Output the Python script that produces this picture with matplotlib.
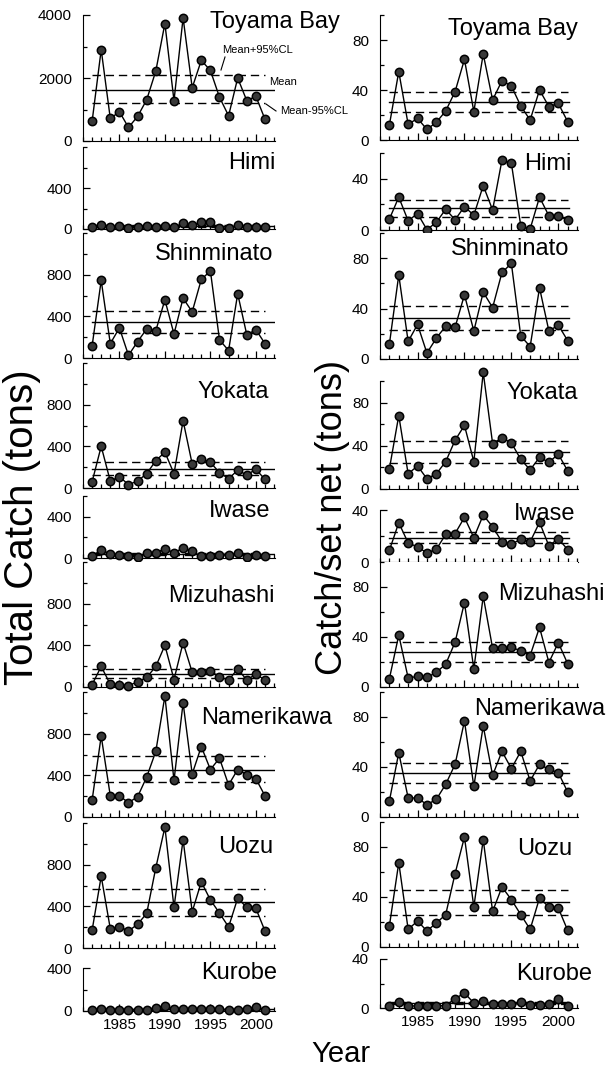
import matplotlib.pyplot as plt
from matplotlib.ticker import MultipleLocator, FixedLocator
import numpy as np

plt.rcParams['font.family'] = ['Liberation Sans', 'DejaVu Sans']

# ---------------- data ----------------
years = np.arange(1982, 2002)

sites = ["Toyama Bay", "Himi", "Shinminato", "Yokata", "Iwase",
         "Mizuhashi", "Namerikawa", "Uozu", "Kurobe"]

# total catch (tons)
catch_toyama = [620, 2900, 715, 930, 430, 780, 1310, 2220, 3730, 1280,
                3910, 1690, 2560, 2240, 1390, 800, 2000, 1280, 1420, 690]
catch_himi = [16, 39, 16, 26, 7, 16, 33, 16, 33, 16,
              55, 39, 65, 65, 7, 7, 39, 23, 16, 16]
catch_shinminato = [115, 745, 138, 289, 26, 157, 279, 262, 558, 230,
                    574, 443, 754, 836, 174, 72, 617, 223, 272, 138]
catch_yokata = [59, 400, 66, 108, 33, 66, 138, 262, 344, 138,
                646, 230, 279, 246, 148, 89, 171, 125, 180, 82]
catch_iwase = [16, 81, 36, 26, 16, 10, 49, 49, 91, 49,
               98, 65, 16, 16, 33, 26, 49, 10, 26, 16]
catch_mizuhashi = [23, 197, 26, 23, 13, 49, 92, 197, 400, 72,
                   426, 141, 148, 154, 98, 66, 174, 66, 125, 66]
catch_namerikawa = [161, 777, 203, 203, 138, 194, 384, 630, 1161, 351,
                    1096, 413, 676, 456, 564, 308, 456, 407, 367, 203]
catch_uozu = [169, 689, 185, 205, 163, 228, 332, 770, 1160, 390,
              1040, 348, 634, 462, 335, 202, 478, 390, 380, 163]
catch_kurobe = [13, 22, 13, 13, 13, 13, 13, 32, 47, 16,
                22, 16, 16, 16, 16, 13, 13, 22, 38, 13]

# catch per set net (tons)
cpue_toyama = [12, 54.7, 12.5, 17.3, 8.5, 14.1, 23.2, 38.7, 64.5, 22.7,
               68.8, 32, 47.5, 43.2, 27.2, 16, 40, 26.7, 29.3, 14.7]
cpue_himi = [8.5, 25.6, 7.2, 12.8, 0.3, 5.9, 16.2, 8, 18.2, 11.5,
             34.6, 15.6, 54.6, 52, 3.3, 0.8, 25.6, 11, 11, 7.7]
cpue_shinminato = [11.8, 66.7, 13.9, 27.4, 4.7, 16.5, 26.1, 25.1, 51, 22.2,
                   53, 40.8, 68.7, 75.8, 18.3, 9.9, 56.5, 22.2, 26.9, 14.6]
cpue_yokata = [18.6, 68, 14, 21.4, 9.5, 14, 25.3, 45.1, 58.9, 25.3,
               108, 42.1, 47.3, 42.7, 27.5, 17.7, 29.3, 24.7, 32.3, 16.8]
cpue_iwase = [9, 30.2, 14.7, 11.6, 7, 9.8, 21.2, 21.9, 34.3, 18.8,
              36.1, 27.1, 15.5, 13.7, 17.5, 15.5, 30.5, 12.4, 18, 9.5]
cpue_mizuhashi = [6.6, 41.6, 7.2, 8.5, 7.7, 11.7, 18.3, 35.8, 67.6, 14.3,
                  72.6, 31, 31, 31.8, 28.9, 25.2, 47.7, 19.6, 35.5, 18.6]
cpue_namerikawa = [12.8, 51.5, 15.2, 15.2, 9.9, 14.1, 26.1, 42.1, 76.8, 24.5,
                   72.8, 33.3, 52.5, 38.7, 52.5, 28.8, 42.1, 38.1, 35.5, 20]
cpue_uozu = [16.8, 67.5, 14.1, 20.8, 12.8, 19.2, 25.9, 58.7, 88, 32,
             85.9, 28.5, 48, 37.9, 25.9, 14.1, 39.2, 32, 31.2, 13.3]
cpue_kurobe = [1.9, 4.9, 1.4, 1.9, 1.9, 1.9, 1.9, 7.6, 12.2, 4.1,
               5.4, 3.5, 3.5, 3.5, 4.9, 2.2, 2.2, 3.5, 7.3, 1.9]

# mean and 95% confidence limits
catch_mean = [1621, 28, 344, 187, 37, 121, 456, 439, 18]
catch_low = [1205, 19, 236, 125, 25, 82, 335, 309, 13]
catch_high = [2080, 37, 453, 253, 48, 171, 587, 562, 23]
cpue_mean = [30.7, 17, 32.7, 34.5, 18.8, 28.4, 35.2, 36, 3.9]
cpue_low = [22.7, 10.3, 23, 23.8, 14.7, 19.9, 27.2, 25.3, 2.9]
cpue_high = [38.7, 23, 41.8, 44.5, 22.7, 35.8, 43.5, 45.9, 5.0]

catch = [catch_toyama, catch_himi, catch_shinminato, catch_yokata, catch_iwase,
         catch_mizuhashi, catch_namerikawa, catch_uozu, catch_kurobe]
cpue = [cpue_toyama, cpue_himi, cpue_shinminato, cpue_yokata, cpue_iwase,
        cpue_mizuhashi, cpue_namerikawa, cpue_uozu, cpue_kurobe]

# ---------------- layout (pixels) ----------------
W, H = 607, 1067
fig = plt.figure(figsize=(W / 100, H / 100), dpi=100)

# (top, bottom, ymax, labelled ticks, minor step)
left_layout = [(15, 141, 4000, [0, 2000, 4000], 1000),
               (147, 229, 800, [0, 400], 200),
               (233, 358, 1200, [0, 400, 800], 200),
               (363, 488, 1200, [0, 400, 800], 200),
               (496, 558, 600, [0, 400], 200),
               (562, 687, 1200, [0, 400, 800], 200),
               (692, 817, 1200, [0, 400, 800], 200),
               (823, 948, 1200, [0, 400, 800], 200),
               (968, 1011, 400, [0, 400], 200)]
right_layout = [(15, 140, 100, [0, 40, 80], 20),
                (153, 230, 60, [0, 40], 20),
                (233, 359, 100, [0, 40, 80], 20),
                (381, 489, 100, [0, 40, 80], 20),
                (510, 562, 40, [0, 40], 20),
                (562, 687, 100, [0, 40, 80], 20),
                (692, 817, 100, [0, 40, 80], 20),
                (822, 947, 100, [0, 40, 80], 20),
                (959, 1008, 40, [0, 40], 20)]
# site name: right edge x, top y
left_names = [(340, 11), (276, 152), (273, 243), (269, 381), (270, 500),
              (275, 585), (332, 707), (273, 836), (277, 962)]
right_names = [(578, 18), (572, 153), (569, 238), (578, 382), (575, 503),
               (605, 583), (605, 698), (572, 838), (592, 963)]


def make_panel(x0, x1, lay, values, mean, low, high, name_pos, name, last, mean_end):
    top, bottom, ymax, labels, minor = lay
    ax = fig.add_axes([x0 / W, 1 - bottom / H, (x1 - x0) / W, (bottom - top) / H])
    ax.plot(years, values, color='black', lw=1, marker='o', markersize=6,
            markerfacecolor='#383838', markeredgecolor='black', markeredgewidth=1.1,
            clip_on=False, zorder=5)
    ax.plot([years[0], mean_end], [mean, mean], color='black', lw=1)
    ax.plot([years[0], years[-1]], [low, low], color='black', lw=1, ls=(0, (6, 3.5)))
    ax.plot([years[0], years[-1]], [high, high], color='black', lw=1, ls=(0, (6, 3.5)))
    ax.set_xlim(1981, 2002.1)
    ax.set_ylim(0, ymax)
    ax.spines['top'].set_visible(False)
    ax.spines['right'].set_visible(False)
    ax.xaxis.set_major_locator(FixedLocator([1985, 1990, 1995, 2000]))
    ax.xaxis.set_minor_locator(MultipleLocator(1))
    ax.yaxis.set_major_locator(FixedLocator(labels))
    ax.yaxis.set_minor_locator(MultipleLocator(minor))
    ax.tick_params(which='both', direction='in', width=0.9, labelsize=11)
    ax.tick_params(which='major', length=5)
    ax.tick_params(which='minor', length=3)
    ax.tick_params(axis='y', pad=8)
    ax.tick_params(axis='x', pad=5, labelbottom=last)
    fig.text(name_pos[0] / W, 1 - name_pos[1] / H, name, ha='right', va='top', fontsize=17)
    return ax


for i in range(len(sites)):
    last = i == len(sites) - 1
    make_panel(83, 275, left_layout[i], catch[i], catch_mean[i], catch_low[i],
               catch_high[i], left_names[i], sites[i], last, 2002)
    make_panel(380, 578, right_layout[i], cpue[i], cpue_mean[i], cpue_low[i],
               cpue_high[i], right_names[i], sites[i], last, 2001.1)

# annotations on the Toyama Bay panel
fig.text(222 / W, 1 - 50 / H, "Mean+95%CL", fontsize=8, va='center')
fig.text(269 / W, 1 - 82 / H, "Mean", fontsize=8, va='center')
fig.text(280 / W, 1 - 111 / H, "Mean-95%CL", fontsize=8, va='center')
fig.add_artist(plt.Line2D([225 / W, 221 / W], [1 - 57 / H, 1 - 70 / H], color='black', lw=0.8))
fig.add_artist(plt.Line2D([276 / W, 266 / W], [1 - 111 / H, 1 - 104 / H], color='black', lw=0.8))

# axis titles
fig.text(22 / W, 1 - 527 / H, "Total Catch (tons)", rotation=90, ha='center', va='center', fontsize=29)
fig.text(333 / W, 1 - 518 / H, "Catch/set net (tons)", rotation=90, ha='center', va='center', fontsize=26)
fig.text(341 / W, 1 - 1054 / H, "Year", ha='center', va='center', fontsize=21)

plt.savefig("out.png", dpi=100)
